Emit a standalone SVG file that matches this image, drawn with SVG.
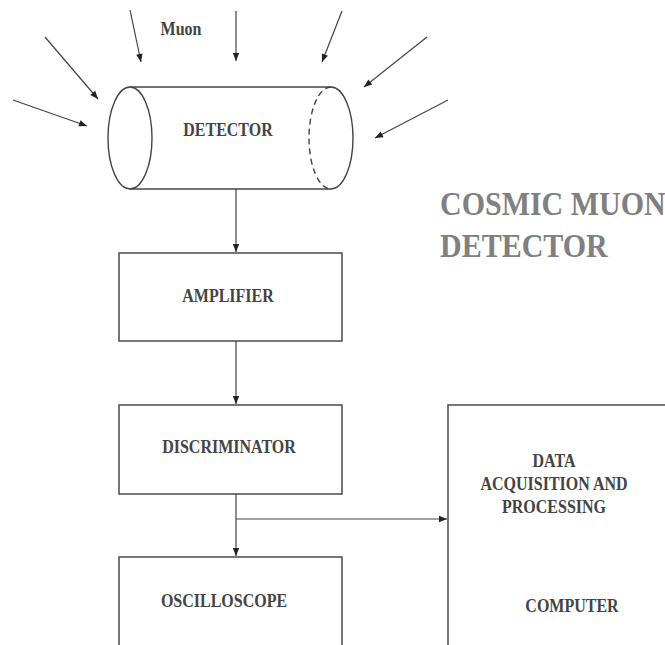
<svg xmlns="http://www.w3.org/2000/svg" width="665" height="645" viewBox="0 0 665 645">
<defs>
<marker id="ah" viewBox="0 0 10 10" refX="10" refY="5" markerWidth="9" markerHeight="8" markerUnits="userSpaceOnUse" orient="auto">
<path d="M0,1 L10,5 L0,9 Z" fill="#222"/>
</marker>
<style>
.ln{stroke:#444;stroke-width:1.4;fill:none}
.ar{stroke:#444;stroke-width:1.2;fill:none;marker-end:url(#ah)}
.box{stroke:#555;stroke-width:1.6;fill:#fff}
.t{font-family:"Liberation Serif","Times New Roman",serif;font-weight:bold;font-size:16px;fill:#444;text-anchor:middle}
.title{font-family:"Liberation Serif","Times New Roman",serif;font-weight:bold;font-size:30px;fill:#808080}
</style>
</defs>
<rect width="665" height="645" fill="#fff"/>
<g id="muons">
<line class="ar" x1="13" y1="100" x2="87" y2="126"/>
<line class="ar" x1="45" y1="37" x2="98" y2="99"/>
<line class="ar" x1="130" y1="10" x2="141" y2="62"/>
<line class="ar" x1="236" y1="11" x2="236" y2="61"/>
<line class="ar" x1="342" y1="11" x2="322" y2="62"/>
<line class="ar" x1="427" y1="37" x2="364" y2="87"/>
<line class="ar" x1="448" y1="100" x2="375" y2="138"/>
<text class="t" transform="translate(181 35) scale(1 1.13)">Muon</text>
</g>
<g id="detector">
<line class="ln" x1="130" y1="87" x2="331" y2="87"/>
<line class="ln" x1="130" y1="189" x2="331" y2="189"/>
<ellipse class="ln" cx="130" cy="138" rx="22" ry="51"/>
<path class="ln" d="M331,87 A22,51 0 0 1 331,189"/>
<path class="ln" d="M331,87 A22,51 0 0 0 331,189" stroke-dasharray="6,4"/>
<text class="t" transform="translate(228 136) scale(1 1.13)">DETECTOR</text>
</g>
<g id="amplifier">
<rect class="box" x="119" y="253" width="223" height="88"/>
<text class="t" transform="translate(228 302) scale(1 1.13)">AMPLIFIER</text>
</g>
<g id="discriminator">
<rect class="box" x="119" y="405" width="223" height="89"/>
<text class="t" transform="translate(229 453) scale(1 1.13)">DISCRIMINATOR</text>
</g>
<g id="oscilloscope">
<rect class="box" x="119" y="557" width="223" height="100"/>
<text class="t" transform="translate(224 607) scale(1 1.13)">OSCILLOSCOPE</text>
</g>
<g id="computer">
<rect class="box" x="448" y="405" width="230" height="250"/>
<text class="t" transform="translate(554 467) scale(1 1.13)">DATA</text>
<text class="t" transform="translate(554 490) scale(1 1.13)">ACQUISITION AND</text>
<text class="t" transform="translate(554 513) scale(1 1.13)">PROCESSING</text>
<text class="t" transform="translate(572 612) scale(1 1.13)">COMPUTER</text>
</g>
<g id="title">
<text class="title" transform="translate(440 215) scale(1 1.1)">COSMIC MUON</text>
<text class="title" transform="translate(440 257) scale(1 1.1)">DETECTOR</text>
</g>
<g id="connectors">
<line class="ar" x1="236" y1="189" x2="236" y2="252"/>
<line class="ar" x1="236" y1="341" x2="236" y2="404"/>
<line class="ar" x1="236" y1="494" x2="236" y2="556"/>
<line class="ar" x1="236" y1="519" x2="447" y2="519"/>
</g>
</svg>
